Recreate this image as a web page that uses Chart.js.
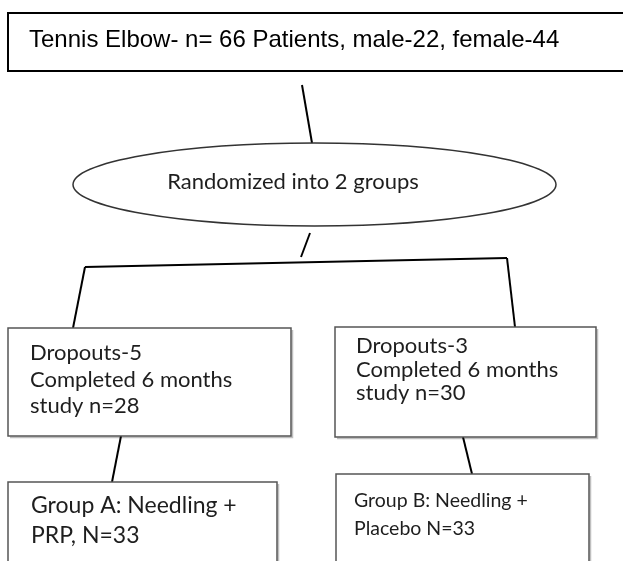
<!DOCTYPE html>
<html>
<head>
<meta charset="utf-8">
<title>Tennis Elbow study flow</title>
<script src="https://cdn.jsdelivr.net/npm/chart.js@4.4.1/dist/chart.umd.min.js"></script>
<style>
html, body { margin: 0; padding: 0; background: #fff; }
#flowChart { display: block; }
</style>
</head>
<body>
<canvas id="flowChart" width="623" height="561"></canvas>
<script>
// study numbers
var totalPatients = 66;
var sexLabels = ['male', 'female'];
var sexCounts = [22, 44];
var groupCount = 2;
var groupNames = ['Group A', 'Group B'];
var groupTreatment = [['Needling +', 'PRP,'], ['Needling +', 'Placebo']];
var groupN = [33, 33];
var dropouts = [5, 3];
var completed = [28, 30];
var followUpMonths = 6;

// texts built from the numbers
var titleText = 'Tennis Elbow- n= ' + totalPatients + ' Patients, ' +
  sexLabels[0] + '-' + sexCounts[0] + ', ' + sexLabels[1] + '-' + sexCounts[1];
var randomText = 'Randomized into ' + groupCount + ' groups';
var completedText = [];
var groupText = [];
for (var i = 0; i < groupCount; i++) {
  completedText.push(['Dropouts-' + dropouts[i], 'Completed ' + followUpMonths + ' months', 'study n=' + completed[i]]);
  groupText.push([groupNames[i] + ': ' + groupTreatment[i][0], groupTreatment[i][1] + ' N=' + groupN[i]]);
}

// layout in reference pixel units (scale 0..623 x 0..561)
var calibri = 'Lato, "Open Sans", sans-serif';
var nodes = [
  { kind: 'box', x: 8, y: 13, w: 640, h: 58, border: '#000', lw: 2, font: '24px "Liberation Sans", Arial, sans-serif',
    color: '#000', tx: 29, lines: [titleText], base: [46.5] },
  { kind: 'ellipse', cx: 314.5, cy: 184.5, rx: 241.5, ry: 41.5, border: '#333', lw: 1.5, font: '22px ' + calibri,
    color: '#1e1e1e', tx: 293, lines: [randomText], base: [189], center: true },
  { kind: 'box', x: 8, y: 328, w: 283, h: 108, border: '#555', lw: 1.5, font: '22px ' + calibri,
    color: '#1e1e1e', tx: 30, lines: completedText[0], base: [360, 387, 413] },
  { kind: 'box', x: 335, y: 327, w: 261, h: 110, border: '#555', lw: 1.5, font: '22px ' + calibri,
    color: '#1e1e1e', tx: 356, lines: completedText[1], base: [353, 377, 400] },
  { kind: 'box', x: 8, y: 482, w: 269, h: 100, border: '#555', lw: 1.5, font: '23px ' + calibri,
    color: '#1e1e1e', tx: 31, lines: groupText[0], base: [513, 543] },
  { kind: 'box', x: 336, y: 474, w: 253, h: 100, border: '#555', lw: 1.5, font: '19.5px ' + calibri,
    color: '#1e1e1e', tx: 354, lines: groupText[1], base: [507, 535] }
];

// connector segments [x1, y1, x2, y2]
var connectors = [
  [302, 85, 312, 143],
  [310, 233, 301, 257],
  [85, 267, 507, 258],
  [85, 267, 73, 328],
  [507, 258, 515, 327],
  [121, 436, 112, 482],
  [463, 437, 472, 474]
];

var lineSets = connectors.map(function (c) {
  return {
    data: [{ x: c[0], y: c[1] }, { x: c[2], y: c[3] }],
    showLine: true,
    borderColor: '#000',
    borderWidth: 2,
    pointRadius: 0,
    pointHoverRadius: 0
  };
});

// draws boxes, ellipse and their texts through the chart's scales
var nodePlugin = {
  id: 'flowNodes',
  afterDatasetsDraw: function (chart) {
    var ctx = chart.ctx;
    var xs = chart.scales.x, ys = chart.scales.y;
    nodes.forEach(function (n) {
      ctx.save();
      ctx.lineWidth = n.lw;
      ctx.strokeStyle = n.border;
      ctx.fillStyle = '#fff';
      if (n.kind === 'box') {
        var x1 = xs.getPixelForValue(n.x), y1 = ys.getPixelForValue(n.y);
        var x2 = xs.getPixelForValue(n.x + n.w), y2 = ys.getPixelForValue(n.y + n.h);
        ctx.beginPath();
        ctx.rect(x1, y1, x2 - x1, y2 - y1);
        ctx.fill();
        ctx.stroke();
        if (n.border !== '#000') {
          // faint shadow on the right edge
          ctx.strokeStyle = 'rgba(0,0,0,0.25)';
          ctx.lineWidth = 1.5;
          ctx.beginPath();
          ctx.moveTo(x2 + 1.5, y1 + 2);
          ctx.lineTo(x2 + 1.5, y2 + 1.5);
          ctx.lineTo(x1 + 2, y2 + 1.5);
          ctx.stroke();
        }
      } else {
        var cx = xs.getPixelForValue(n.cx), cy = ys.getPixelForValue(n.cy);
        var rx = Math.abs(xs.getPixelForValue(n.cx + n.rx) - cx);
        var ry = Math.abs(ys.getPixelForValue(n.cy + n.ry) - cy);
        ctx.beginPath();
        ctx.ellipse(cx, cy, rx, ry, 0, 0, Math.PI * 2);
        ctx.fill();
        ctx.stroke();
      }
      ctx.fillStyle = n.color;
      ctx.font = n.font;
      ctx.textBaseline = 'alphabetic';
      ctx.textAlign = n.center ? 'center' : 'left';
      n.lines.forEach(function (t, k) {
        ctx.fillText(t, xs.getPixelForValue(n.tx), ys.getPixelForValue(n.base[k]));
      });
      ctx.restore();
    });
  }
};

var chart = new Chart(document.getElementById('flowChart').getContext('2d'), {
  type: 'scatter',
  data: { datasets: lineSets },
  options: {
    responsive: false,
    animation: false,
    layout: { padding: 0 },
    plugins: { legend: { display: false }, tooltip: { enabled: false } },
    scales: {
      x: { type: 'linear', min: 0, max: 623, display: false },
      y: { type: 'linear', min: 0, max: 561, reverse: true, display: false }
    }
  },
  plugins: [nodePlugin]
});
</script>
</body>
</html>
